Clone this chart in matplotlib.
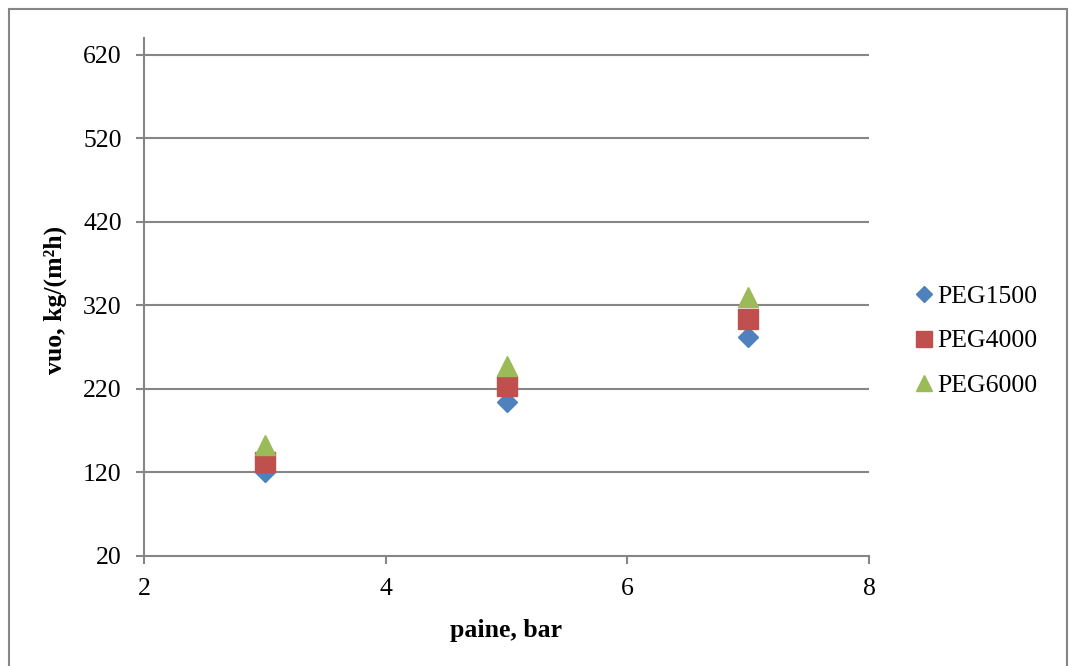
import matplotlib.pyplot as plt
from matplotlib.patches import Rectangle

# presion (bar) y flujo de agua medido para cada PEG
paine = [3, 5, 7]
peg1500 = [121, 204, 282]
peg4000 = [133, 223, 304]
peg6000 = [153, 247, 330]
nombres = ['PEG1500', 'PEG4000', 'PEG6000']
yticks = [20, 120, 220, 320, 420, 520, 620]
xticks = [2, 4, 6, 8]

plt.rcParams['font.family'] = ['Liberation Serif', 'DejaVu Serif']
gris = '#868686'

fig = plt.figure(figsize=(10.69, 6.66), dpi=100)
ax = fig.add_axes([144/1069, 110/666, 725/1069, 518/666])

ax.plot(paine, peg1500, linestyle='none', marker='D', markersize=10.5,
        color='#4F81BD', label=nombres[0], zorder=3, clip_on=False)
ax.plot(paine, peg4000, linestyle='none', marker='s', markersize=14.5,
        color='#C0504D', label=nombres[1], zorder=3, clip_on=False)
ax.plot(paine, peg6000, linestyle='none', marker='^', markersize=15,
        color='#9BBB59', label=nombres[2], zorder=3, clip_on=False)

ax.set_xlim(2, 8)
ax.set_ylim(20, 640)
ax.set_xticks(xticks)
ax.set_yticks(yticks)
for y in yticks[1:]:
    ax.axhline(y, color=gris, linewidth=1.5, zorder=1)

for lado in ['top', 'right']:
    ax.spines[lado].set_visible(False)
for lado in ['left', 'bottom']:
    ax.spines[lado].set_color(gris)
    ax.spines[lado].set_linewidth(1.5)
ax.tick_params(axis='both', direction='out', length=6, width=1.5, color=gris,
               labelsize=18.5, labelcolor='black')
ax.tick_params(axis='y', pad=10)
ax.tick_params(axis='x', pad=10)

fig.text(506/1069, (666-631)/666, 'paine, bar', fontsize=18.5, fontweight='bold',
         ha='center', va='center')
fig.text(55/1069, (666-300)/666, 'vuo, kg/(m²h)', fontsize=18.5, fontweight='bold',
         rotation=90, ha='center', va='center')

ax.legend(loc='center left', bbox_to_anchor=(915/1069, (666-341)/666),
          bbox_transform=fig.transFigure, frameon=False, fontsize=18.5,
          handlelength=0.7, handletextpad=0.15, labelspacing=0.84,
          borderpad=0, borderaxespad=0, markerscale=0.8)

# marco exterior del grafico
fig.patches.append(Rectangle((9/1069, -0.02), 1058/1069, (666-9)/666 + 0.02,
                             transform=fig.transFigure, fill=False,
                             edgecolor=gris, linewidth=1.5))

plt.savefig('out.png', dpi=100)
plt.close()
